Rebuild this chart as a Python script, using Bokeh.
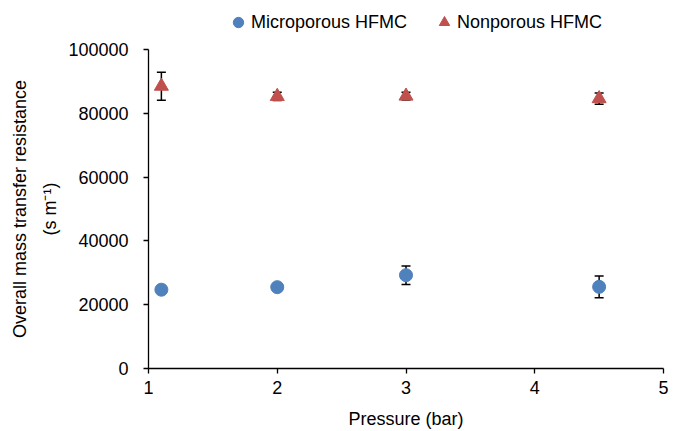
from bokeh.plotting import figure
from bokeh.layouts import column
from bokeh.models import (ColumnDataSource, Whisker, TeeHead, FixedTicker, LinearAxis,
                          Legend, LegendItem, Range1d, NumeralTickFormatter)
from bokeh.embed import file_html
from bokeh.resources import INLINE

# ---- data ----
pressure = [1.1, 2, 3, 4.5]
micro = [24700, 25500, 29250, 25600]
micro_err = [500, 500, 2900, 3400]
nonpor = [88500, 85300, 85400, 84600]
nonpor_err = [4400, 1300, 1200, 1800]
x_ticks = [1, 2, 3, 4, 5]
y_ticks = [0, 20000, 40000, 60000, 80000, 100000]

BLUE = "#4F81BD"
RED = "#C0504D"
FONT = "Liberation Sans"

src_m = ColumnDataSource(dict(x=pressure, y=micro,
                              lo=[v - e for v, e in zip(micro, micro_err)],
                              hi=[v + e for v, e in zip(micro, micro_err)]))
src_n = ColumnDataSource(dict(x=pressure, y=nonpor,
                              lo=[v - e for v, e in zip(nonpor, nonpor_err)],
                              hi=[v + e for v, e in zip(nonpor, nonpor_err)]))

p = figure(width=675, height=392, x_range=Range1d(1, 5), y_range=Range1d(0, 100000),
           output_backend="svg", toolbar_location=None, title=None,
           min_border_left=148, min_border_right=12, min_border_top=10, min_border_bottom=63)
p.outline_line_color = None
p.grid.visible = False
p.background_fill_color = "white"
p.border_fill_color = "white"

for ax in (p.xaxis[0], p.yaxis[0]):
    ax.axis_line_color = "black"
    ax.axis_line_width = 1.3
    ax.major_tick_line_color = "black"
    ax.major_tick_line_width = 1.3
    ax.major_tick_in = 0
    ax.major_tick_out = 5
    ax.minor_tick_line_color = None
    ax.major_label_text_font = FONT
    ax.major_label_text_font_size = "18px"
    ax.major_label_text_color = "black"
    ax.axis_label_text_font = FONT
    ax.axis_label_text_font_size = "18px"
    ax.axis_label_text_font_style = "normal"
    ax.axis_label_text_color = "black"

p.xaxis[0].ticker = FixedTicker(ticks=x_ticks)
p.xaxis[0].axis_label = "Pressure (bar)"
p.xaxis[0].major_label_standoff = 7
p.xaxis[0].axis_label_standoff = 12

p.yaxis[0].ticker = FixedTicker(ticks=y_ticks)
p.yaxis[0].formatter = NumeralTickFormatter(format="0")
p.yaxis[0].axis_label = "(s m⁻¹)"
p.yaxis[0].major_label_standoff = 15
p.yaxis[0].axis_label_standoff = 5

outer = LinearAxis(axis_label="Overall mass transfer resistance",
                   ticker=FixedTicker(ticks=[]), axis_line_color=None,
                   major_tick_line_color=None, minor_tick_line_color=None,
                   major_tick_in=0, major_tick_out=0, minor_tick_in=0, minor_tick_out=0,
                   major_label_text_font_size="0px",
                   axis_label_text_font=FONT, axis_label_text_font_size="18px",
                   axis_label_text_font_style="normal", axis_label_text_color="black",
                   axis_label_standoff=8)
p.add_layout(outer, "left")

def whisker(src):
    return Whisker(source=src, base="x", upper="hi", lower="lo", line_color="black", line_width=1.5,
                   upper_head=TeeHead(size=9, line_color="black", line_width=1.5),
                   lower_head=TeeHead(size=9, line_color="black", line_width=1.5))

p.add_layout(whisker(src_m))
p.add_layout(whisker(src_n))

p.scatter("x", "y", source=src_m, marker="circle", size=13, color=BLUE)
p.scatter("x", "y", source=src_n, marker="triangle", size=14, color=RED)

# ---- legend strip on top (same series, drawn outside its view so only the legend shows) ----
top = figure(width=675, height=39, x_range=Range1d(1, 5), y_range=Range1d(-2, -1),
             output_backend="svg", toolbar_location=None, title=None,
             x_axis_type=None, y_axis_type=None, min_border=0)
top.outline_line_color = None
top.grid.visible = False
top.border_fill_color = "white"
top.background_fill_color = "white"
l1 = top.scatter("x", "y", source=src_m, marker="circle", size=13, color=BLUE)
l2 = top.scatter("x", "y", source=src_n, marker="triangle", size=14, color=RED)

legend = Legend(items=[LegendItem(label="Microporous HFMC", renderers=[l1]),
                       LegendItem(label="Nonporous HFMC", renderers=[l2])],
                orientation="horizontal", location=(77, 2),
                border_line_color=None, background_fill_alpha=0,
                label_text_font=FONT, label_text_font_size="18px", label_text_color="black",
                glyph_width=26, glyph_height=30, label_height=30, label_standoff=0,
                spacing=24, padding=0, margin=0)
top.add_layout(legend)

layout = column(top, p, spacing=0)
open("out.html", "w").write(file_html(layout, INLINE))
